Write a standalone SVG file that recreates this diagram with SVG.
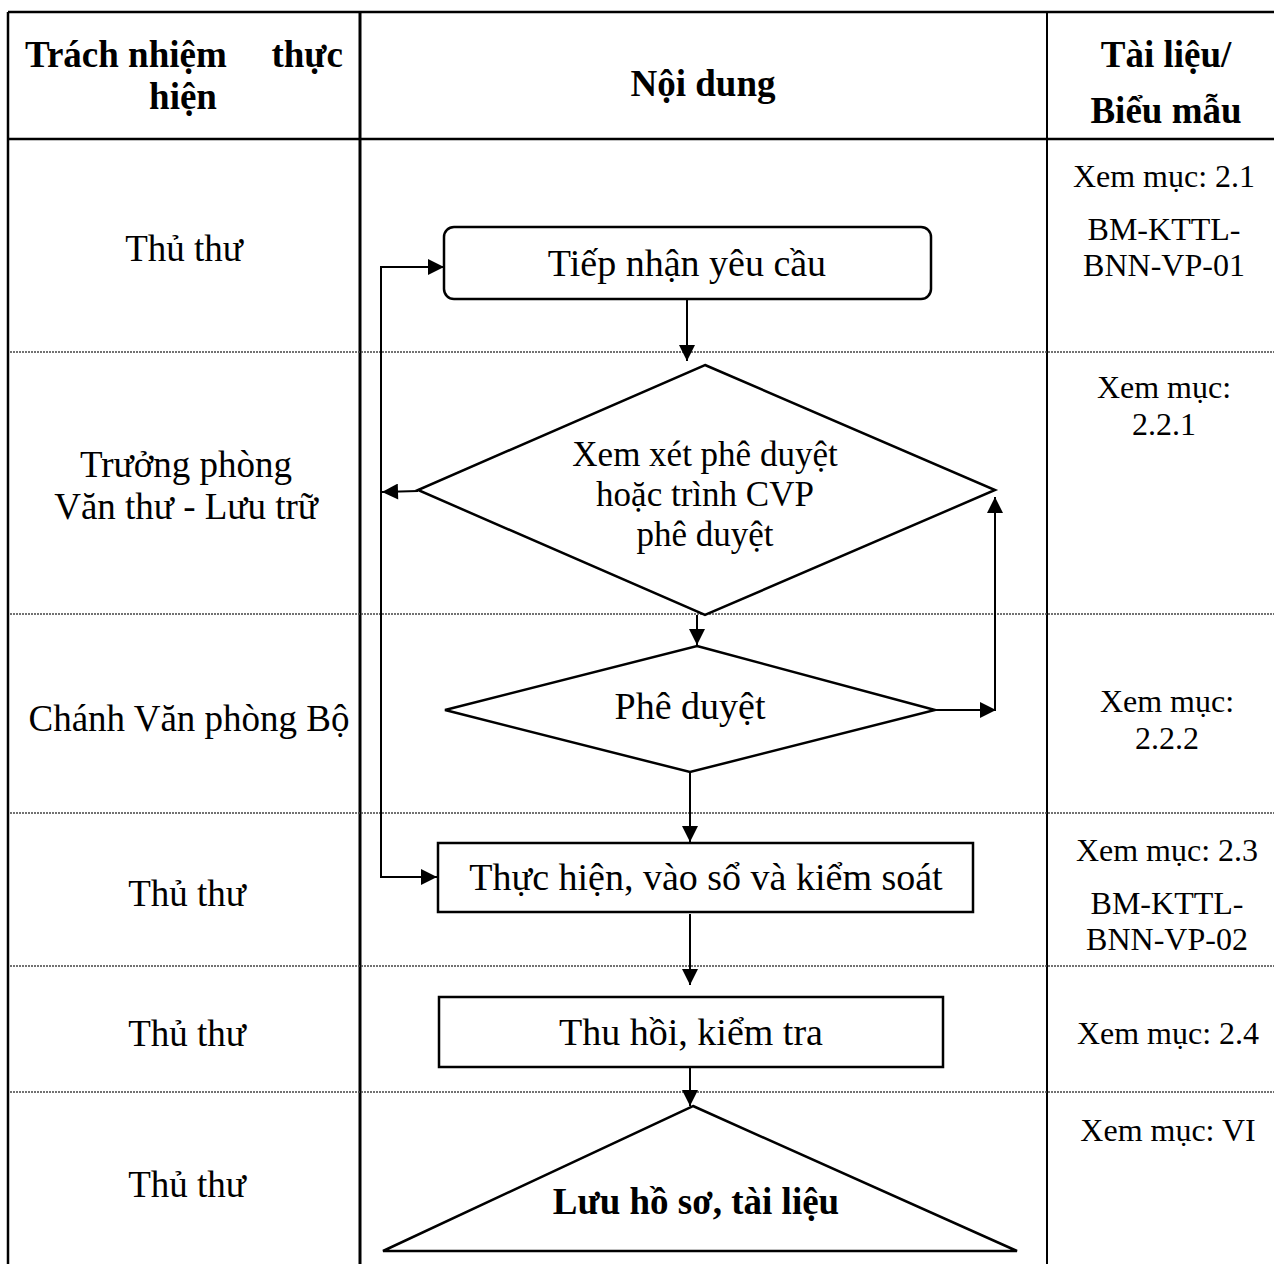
<svg xmlns="http://www.w3.org/2000/svg" width="1274" height="1264" viewBox="0 0 1274 1264">
<defs>
<style>
.t{font-family:"Liberation Serif","Times New Roman",serif;font-size:38px;fill:#000;text-anchor:middle}
.d{font-family:"Liberation Serif","Times New Roman",serif;font-size:35px;fill:#000;text-anchor:middle}
.l{font-family:"Liberation Serif","Times New Roman",serif;font-size:37px;fill:#000;text-anchor:middle}
.h{font-family:"Liberation Serif","Times New Roman",serif;font-size:37px;font-weight:bold;fill:#000;text-anchor:middle}
.r{font-family:"Liberation Serif","Times New Roman",serif;font-size:32px;fill:#000;text-anchor:middle}
.shape{fill:#fff;stroke:#000;stroke-width:2.5}
.con{fill:none;stroke:#000;stroke-width:2}
.grid{stroke:#000;stroke-width:2.5;fill:none}
.dot{stroke:#444;stroke-width:1.5;stroke-dasharray:2 1;fill:none}
</style>
<marker id="ah" viewBox="0 0 10 10" refX="10" refY="5" markerWidth="18" markerHeight="16" markerUnits="userSpaceOnUse" orient="auto">
<path d="M0,0 L10,5 L0,10 Z" fill="#000"/>
</marker>
</defs>
<rect width="1274" height="1264" fill="#fff"/>
<g id="table">
<line class="grid" x1="8" y1="12" x2="1274" y2="12"/>
<line class="grid" x1="8" y1="139" x2="1274" y2="139"/>
<line class="grid" x1="8" y1="12" x2="8" y2="1264"/>
<line class="grid" x1="360" y1="12" x2="360" y2="1264" style="stroke-width:3"/>
<line class="grid" x1="1047" y1="12" x2="1047" y2="1264" style="stroke-width:2"/>
<line class="dot" x1="10" y1="352" x2="1274" y2="352"/>
<line class="dot" x1="10" y1="614" x2="1274" y2="614"/>
<line class="dot" x1="10" y1="813" x2="1274" y2="813"/>
<line class="dot" x1="10" y1="966" x2="1274" y2="966"/>
<line class="dot" x1="10" y1="1092" x2="1274" y2="1092"/>
<text class="h" x="25" y="67" style="text-anchor:start">Trách nhiệm</text>
<text class="h" x="343" y="67" style="text-anchor:end">thực</text>
<text class="h" x="183" y="109">hiện</text>
<text class="h" x="703" y="96">Nội dung</text>
<text class="h" x="1166" y="67">Tài liệu/</text>
<text class="h" x="1166" y="123">Biểu mẫu</text>
</g>
<g id="responsibility">
<text class="l" x="184" y="261">Thủ thư</text>
<text class="l" x="186" y="477">Trưởng phòng</text>
<text class="l" x="186" y="519">Văn thư - Lưu trữ</text>
<text class="l" x="189" y="731">Chánh Văn phòng Bộ</text>
<text class="l" x="187" y="906">Thủ thư</text>
<text class="l" x="187" y="1046">Thủ thư</text>
<text class="l" x="187" y="1197">Thủ thư</text>
</g>
<g id="documents">
<text class="r" x="1164" y="187">Xem mục: 2.1</text>
<text class="r" x="1164" y="240">BM-KTTL-</text>
<text class="r" x="1164" y="276">BNN-VP-01</text>
<text class="r" x="1164" y="398">Xem mục:</text>
<text class="r" x="1164" y="435">2.2.1</text>
<text class="r" x="1167" y="712">Xem mục:</text>
<text class="r" x="1167" y="749">2.2.2</text>
<text class="r" x="1167" y="861">Xem mục: 2.3</text>
<text class="r" x="1167" y="914">BM-KTTL-</text>
<text class="r" x="1167" y="950">BNN-VP-02</text>
<text class="r" x="1168" y="1044">Xem mục: 2.4</text>
<text class="r" x="1168" y="1141">Xem mục: VI</text>
</g>
<g id="n1">
<rect class="shape" x="444" y="227" width="487" height="72" rx="10"/>
<text class="t" x="687" y="276">Tiếp nhận yêu cầu</text>
</g>
<g id="n2">
<polygon class="shape" points="705,365 995,490 705,615 418,490"/>
<text class="d" x="705" y="466">Xem xét phê duyệt</text>
<text class="d" x="705" y="506">hoặc trình CVP</text>
<text class="d" x="705" y="546">phê duyệt</text>
</g>
<g id="n3">
<polygon class="shape" points="697,646 935,710 690,772 445,710"/>
<text class="t" x="690" y="719">Phê duyệt</text>
</g>
<g id="n4">
<rect class="shape" x="438" y="843" width="535" height="69"/>
<text class="t" x="706" y="890">Thực hiện, vào sổ và kiểm soát</text>
</g>
<g id="n5">
<rect class="shape" x="439" y="997" width="504" height="70"/>
<text class="t" x="691" y="1045">Thu hồi, kiểm tra</text>
</g>
<g id="n6">
<polygon class="shape" points="693,1106 1017,1251 383,1251"/>
<text class="h" x="696" y="1214">Lưu hồ sơ, tài liệu</text>
</g>
<g id="connectors">
<line class="con" x1="687" y1="299" x2="687" y2="361" marker-end="url(#ah)"/>
<line class="con" x1="697" y1="615" x2="697" y2="645" marker-end="url(#ah)"/>
<line class="con" x1="935" y1="710" x2="996" y2="710" marker-end="url(#ah)"/>
<line class="con" x1="995" y1="710" x2="995" y2="497" marker-end="url(#ah)"/>
<line class="con" x1="418" y1="491" x2="382" y2="492" marker-end="url(#ah)"/>
<polyline class="con" points="381,878 381,267 444,267" marker-end="url(#ah)"/>
<line class="con" x1="381" y1="877" x2="437" y2="877" marker-end="url(#ah)"/>
<line class="con" x1="690" y1="772" x2="690" y2="842" marker-end="url(#ah)"/>
<line class="con" x1="690" y1="914" x2="690" y2="985" marker-end="url(#ah)"/>
<line class="con" x1="690" y1="1067" x2="690" y2="1106" marker-end="url(#ah)"/>
</g>
</svg>
